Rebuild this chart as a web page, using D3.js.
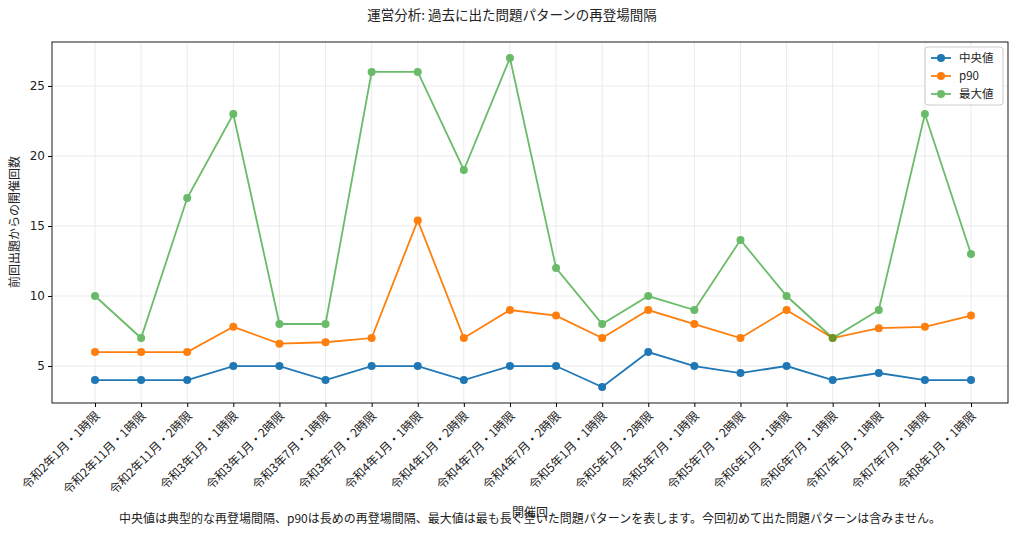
<!DOCTYPE html>
<html><head><meta charset="utf-8">
<script src="https://cdn.jsdelivr.net/npm/d3@7"></script>
<style>body{margin:0;background:#fff;font-family:"Noto Sans CJK JP","DejaVu Sans",sans-serif;}</style>
</head><body>
<svg id="c" width="1024" height="533"></svg>
<script>
const categories=["令和2年1月・1時限","令和2年11月・1時限","令和2年11月・2時限","令和3年1月・1時限","令和3年1月・2時限","令和3年7月・1時限","令和3年7月・2時限","令和4年1月・1時限","令和4年1月・2時限","令和4年7月・1時限","令和4年7月・2時限","令和5年1月・1時限","令和5年1月・2時限","令和5年7月・1時限","令和5年7月・2時限","令和6年1月・1時限","令和6年7月・1時限","令和7年1月・1時限","令和7年7月・1時限","令和8年1月・1時限"];
const median=[4,4,4,5,5,4,5,5,4,5,5,3.5,6,5,4.5,5,4,4.5,4,4];
const p90=[6,6,6,7.8,6.6,6.7,7,15.4,7,9,8.6,7,9,8,7,9,7,7.7,7.8,8.6];
const maxv=[10,7,17,23,8,8,26,26,19,27,12,8,10,9,14,10,7,9,23,13];
const yTicks=[5,10,15,20,25];
const series=[{name:"中央値",vals:median,color:"#1f77b4",op:1},{name:"p90",vals:p90,color:"#ff7f0e",op:1},{name:"最大値",vals:maxv,color:"#2ca02c",op:0.7}];
const svg=d3.select("#c");
const L=52,R=1008,T=42,B=403;
const x=d3.scalePoint().domain(categories).range([95,971]);
const y=d3.scaleLinear().domain([2.36,28.14]).range([B,T]);
const g=svg.append("g");
g.selectAll(".gx").data(categories).enter().append("line").attr("x1",d=>x(d)).attr("x2",d=>x(d)).attr("y1",T).attr("y2",B).attr("stroke","#e6e6e6").attr("stroke-width",0.8);
g.selectAll(".gy").data(yTicks).enter().append("line").attr("x1",L).attr("x2",R).attr("y1",d=>y(d)).attr("y2",d=>y(d)).attr("stroke","#e6e6e6").attr("stroke-width",0.8);
const xa=svg.append("g").attr("transform",`translate(0,${B})`).call(d3.axisBottom(x).tickSize(4).tickSizeOuter(0));
xa.select(".domain").remove();
xa.selectAll("text").attr("transform","rotate(-45)").attr("text-anchor","end").attr("dx","-0.5em").attr("dy","0.5em").style("font-size","12px").style("font-family","Noto Sans CJK JP").attr("fill","#222");
const ya=svg.append("g").attr("transform",`translate(${L},0)`).call(d3.axisLeft(y).tickValues(yTicks).tickSize(4));
ya.select(".domain").remove();
ya.selectAll("text").style("font-size","12px").style("font-family","DejaVu Sans").attr("fill","#222");
svg.append("rect").attr("x",L).attr("y",T).attr("width",R-L).attr("height",B-T).attr("fill","none").attr("stroke","#000").attr("stroke-width",0.9);
const line=d3.line().x((d,i)=>x(categories[i])).y(d=>y(d));
series.forEach(s=>{
  const gg=svg.append("g").attr("opacity",s.op);
  gg.append("path").attr("d",line(s.vals)).attr("fill","none").attr("stroke",s.color).attr("stroke-width",1.8);
  gg.selectAll("circle").data(s.vals).enter().append("circle").attr("cx",(d,i)=>x(categories[i])).attr("cy",d=>y(d)).attr("r",4).attr("fill",s.color);
});
const lg=svg.append("g").attr("transform","translate(925,47)");
lg.append("rect").attr("width",78).attr("height",58).attr("rx",3).attr("fill","#fff").attr("fill-opacity",0.8).attr("stroke","#ccc");
series.forEach((s,i)=>{
  const r=lg.append("g").attr("transform",`translate(0,${11+i*18})`).attr("opacity",s.op);
  r.append("line").attr("x1",6).attr("x2",26).attr("stroke",s.color).attr("stroke-width",1.8);
  r.append("circle").attr("cx",16).attr("r",4).attr("fill",s.color);
  lg.append("text").attr("x",34).attr("y",11+i*18).attr("dy","0.35em").style("font-size","11.5px").attr("fill","#222").text(s.name);
});
svg.append("text").attr("x",512).attr("y",20).attr("text-anchor","middle").style("font-size","13.5px").attr("fill","#222").text("運営分析: 過去に出た問題パターンの再登場間隔");
svg.append("text").attr("transform","translate(19,222) rotate(-90)").attr("text-anchor","middle").style("font-size","12px").attr("fill","#222").text("前回出題からの開催回数");
svg.append("text").attr("x",530).attr("y",517).attr("text-anchor","middle").style("font-size","12px").attr("fill","#222").text("開催回");
svg.append("text").attr("x",530).attr("y",523).attr("text-anchor","middle").style("font-size","12px").attr("fill","#222").text("中央値は典型的な再登場間隔、p90は長めの再登場間隔、最大値は最も長く空いた問題パターンを表します。今回初めて出た問題パターンは含みません。");
</script></body></html>
